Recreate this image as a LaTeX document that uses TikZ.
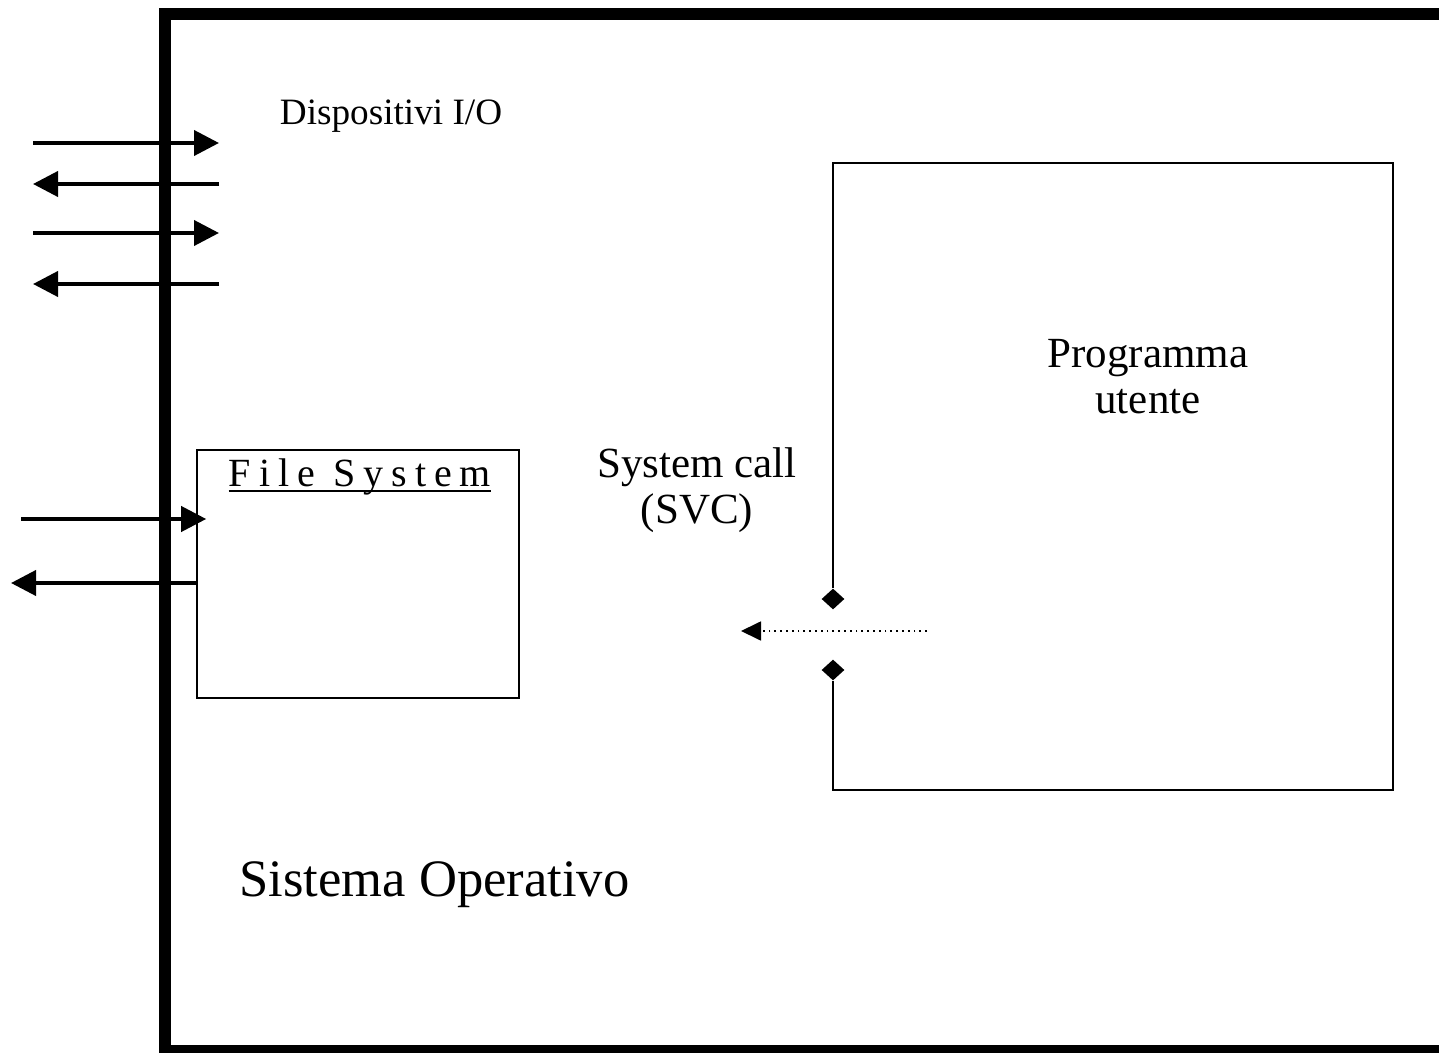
\documentclass[tikz,border=0pt]{standalone}
\usepackage{fontspec}
\setmainfont{Liberation Serif}
\usetikzlibrary{arrows.meta,shapes.geometric}
\tikzset{
  frame/.style={line width=6pt,line join=miter},
  io/.style={line width=2pt,-{Triangle[length=12.5pt,width=12.5pt]}},
  thinbox/.style={draw,line width=0.8pt},
  callarrow/.style={line width=0.9pt,dotted,-{Triangle[length=10pt,width=9.5pt]}},
  knob/.style={diamond,fill=black,inner sep=0pt,minimum width=11.5pt,minimum height=10.5pt},
  txt/.style={inner sep=0pt,anchor=base},
}
\begin{document}
\begin{tikzpicture}[x=0.5pt,y=-0.5pt]
\useasboundingbox (0,0) rectangle (1439,1053);
\clip (0,0) rectangle (1439,1053);
\fill[white] (0,0) rectangle (1439,1053);
% main frame (Sistema Operativo)
\draw[frame] (1460,1051) -- (165,1051) -- (165,14) -- (1460,14);
% I/O device arrows
\coordinate (a1l) at (33,143);  \coordinate (a1r) at (219,143);
\coordinate (a2l) at (33,184);  \coordinate (a2r) at (219,184);
\coordinate (a3l) at (33,233);  \coordinate (a3r) at (219,233);
\coordinate (a4l) at (33,284);  \coordinate (a4r) at (219,284);
\draw[io] (a1l) -- (a1r);
\draw[io] (a2r) -- (a2l);
\draw[io] (a3l) -- (a3r);
\draw[io] (a4r) -- (a4l);
\node[txt,font=\fontsize{18.6pt}{22pt}\selectfont] (dio) at (391,125) {Dispositivi I/O};
% File System box
\node[thinbox,minimum width=161pt,minimum height=124pt,inner sep=0pt] (fs) at (358,574) {};
\node[txt,font=\fontsize{20pt}{22pt}\selectfont\addfontfeatures{LetterSpace=20}] (fsl) at (360,486) {File System};
\draw[line width=1pt] ([yshift=-2.6pt]fsl.base west) -- ([yshift=-2.6pt]fsl.base east);
\coordinate (fin) at (21,519);
\coordinate (fout) at (11,583);
\draw[io] (fin) -- (fs.west |- fin) -- ++(10,0);
\draw[io] (fs.west |- fout) -- (fout);
% Programma utente box
\node[knob] (k1) at (833,599) {};
\node[knob] (k2) at (833,670) {};
\draw[line width=1pt] (k1.north) -- (833,163) -- (1393,163) -- (1393,790) -- (833,790) -- (k2.south);
\node[txt,font=\fontsize{21.5pt}{24pt}\selectfont] (pu1) at (1148,368) {Programma};
\node[txt,font=\fontsize{21.5pt}{24pt}\selectfont] (pu2) at (1148,413) {utente};
% system call
\coordinate (cs) at (927,631);
\coordinate (ce) at (741,631);
\draw[callarrow] (cs) -- (ce);
\node[txt,font=\fontsize{21.5pt}{24pt}\selectfont] (sc1) at (697,477) {System call};
\node[txt,font=\fontsize{21.5pt}{24pt}\selectfont] (sc2) at (697,523) {(SVC)};
% label
\node[txt,anchor=base west,font=\fontsize{26.3pt}{30pt}\selectfont] (so) at (239,896) {Sistema Operativo};
\end{tikzpicture}
\end{document}
